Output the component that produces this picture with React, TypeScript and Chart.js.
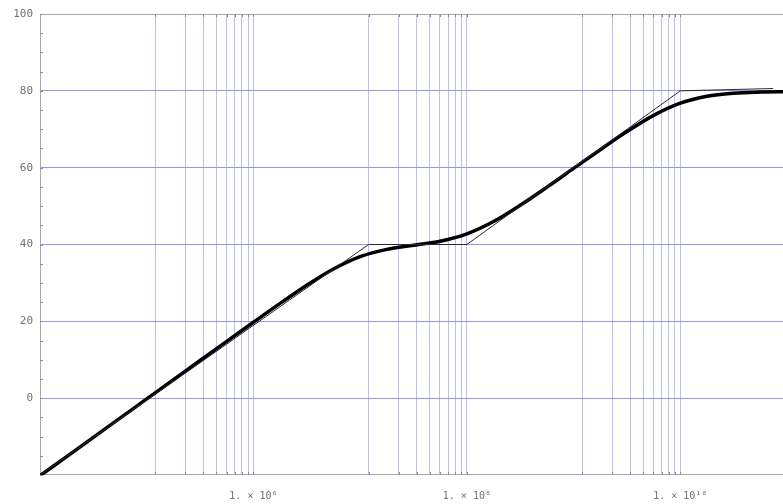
import { useEffect, useRef } from "react";
import { Chart, registerables } from "chart.js";

Chart.register(...registerables);

// Frequency samples as log10(ω), and the magnitude (dB) read at each one.
const logOmega = [
  4, 4.25, 4.5, 4.75, 5, 5.25, 5.5, 5.75, 6, 6.25, 6.5, 6.75, 7, 7.25, 7.5,
  7.75, 8, 8.25, 8.5, 8.75, 9, 9.25, 9.5, 9.75, 10, 10.25, 10.5, 10.75, 11,
];
const magnitudeDb = [
  -20.2, -15.2, -10.2, -5.2, -0.2, 4.8, 9.8, 14.79, 19.76, 24.67, 29.39, 33.62,
  36.83, 38.74, 39.8, 40.86, 42.77, 45.98, 50.21, 54.92, 59.8, 64.68, 69.39,
  73.61, 76.79, 78.61, 79.39, 79.67, 79.76,
];

// Straight-line (asymptotic) approximation: break points.
const asymptoteLogOmega = [4, 7.08, 8, 10, 10.87];
const asymptoteDb = [-20, 40, 40, 80, 80.6];

// Labelled decades on the frequency axis and their text.
const labelledDecades = [6, 8, 10];
const decadeLabels = ["1. \u00d7 10\u2076", "1. \u00d7 10\u2078", "1. \u00d7 10\u00b9\u2070"];
// Vertical grid lines: fractions of each labelled decade value.
const gridFractions = [0.12, 0.23, 0.34, 0.45, 0.56, 0.67, 0.78, 0.89, 1.0];

// Magnitude axis.
const yMin = -20;
const yMax = 100;
const yMinorStep = 5;
const yTickLabels = [0, 20, 40, 60, 80, 100];

const X_MIN = 1e4;
const X_MAX = 1e11;

const xGridValues = labelledDecades.flatMap((d) =>
  gridFractions.map((f) => f * Math.pow(10, d))
);

const labelFor = (value: number): string => {
  const idx = labelledDecades.findIndex(
    (d) => Math.abs(Math.log10(value) - d) < 1e-9
  );
  return idx >= 0 ? decadeLabels[idx] : "";
};

const V_GRID = "rgb(190,190,242)";
const H_GRID = "rgb(150,150,225)";
const FRAME = "#a8a8a8";
const TICK_MARK = "#8a8a8a";
const LABEL = "#707070";

const framePlugin = {
  id: "bodeFrame",
  beforeDatasetsDraw(chart: any) {
    const { ctx, chartArea: a, scales } = chart;
    ctx.save();
    ctx.strokeStyle = FRAME;
    ctx.lineWidth = 1;
    ctx.strokeRect(
      Math.round(a.left) + 0.5,
      Math.round(a.top) + 0.5,
      Math.round(a.right - a.left),
      Math.round(a.bottom - a.top) - 1
    );
    ctx.strokeStyle = TICK_MARK;
    ctx.beginPath();
    for (const v of xGridValues) {
      const px = Math.round(scales.x.getPixelForValue(v)) + 0.5;
      ctx.moveTo(px, a.bottom);
      ctx.lineTo(px, a.bottom - 3);
      ctx.moveTo(px, a.top);
      ctx.lineTo(px, a.top + 3);
    }
    for (const t of scales.y.ticks) {
      const py = Math.round(scales.y.getPixelForValue(t.value)) + 0.5;
      ctx.moveTo(a.left, py);
      ctx.lineTo(a.left + 3, py);
    }
    ctx.stroke();
    ctx.restore();
  },
};

export default function App() {
  const canvasRef = useRef<HTMLCanvasElement | null>(null);

  useEffect(() => {
    const canvas = canvasRef.current;
    if (!canvas) return;

    const curve = logOmega.map((l, i) => ({ x: Math.pow(10, l), y: magnitudeDb[i] }));
    const asymptote = asymptoteLogOmega.map((l, i) => ({
      x: Math.pow(10, l),
      y: asymptoteDb[i],
    }));

    const chart = new Chart(canvas, {
      type: "line",
      data: {
        datasets: [
          {
            label: "asymptote",
            data: asymptote,
            borderColor: "#2a2a2a",
            borderWidth: 1,
            pointRadius: 0,
            tension: 0,
          },
          {
            label: "magnitude",
            data: curve,
            borderColor: "#000000",
            borderWidth: 3.5,
            pointRadius: 0,
            cubicInterpolationMode: "monotone",
          },
        ],
      },
      options: {
        animation: false,
        responsive: false,
        devicePixelRatio: 1,
        layout: { padding: { top: 14, right: 13, left: 0, bottom: 0 } },
        plugins: {
          legend: { display: false },
          tooltip: { enabled: false },
        },
        scales: {
          x: {
            type: "logarithmic",
            min: X_MIN,
            max: X_MAX,
            afterBuildTicks: (scale: any) => {
              scale.ticks = xGridValues.map((v) => ({ value: v }));
            },
            afterFit: (scale: any) => {
              scale.height = 29;
            },
            border: { display: false },
            grid: {
              color: V_GRID,
              lineWidth: 1,
              drawTicks: false,
            },
            ticks: {
              autoSkip: false,
              maxRotation: 0,
              minRotation: 0,
              padding: 15,
              color: LABEL,
              font: { family: "'DejaVu Sans Mono', monospace", size: 10 },
              callback: (value: any) => labelFor(Number(value)),
            },
          },
          y: {
            type: "linear",
            min: yMin,
            max: yMax,
            afterFit: (scale: any) => {
              scale.width = 40;
            },
            border: { display: false },
            grid: {
              drawTicks: false,
              lineWidth: 1,
              color: (c: any) => {
                const v = c.tick ? c.tick.value : NaN;
                return yTickLabels.includes(v) && v > yMin && v < yMax
                  ? H_GRID
                  : "rgba(0,0,0,0)";
              },
            },
            ticks: {
              stepSize: yMinorStep,
              autoSkip: false,
              padding: 7,
              color: LABEL,
              font: { family: "'DejaVu Sans Mono', monospace", size: 11 },
              callback: (value: any) =>
                yTickLabels.includes(Number(value)) ? String(value) : "",
            },
          },
        },
      },
      plugins: [framePlugin],
    });

    return () => chart.destroy();
  }, []);

  return (
    <div
      style={{
        position: "fixed",
        left: 0,
        top: 0,
        width: 783,
        height: 504,
        overflow: "hidden",
        background: "#ffffff",
      }}
    >
      <canvas ref={canvasRef} width={800} height={504} style={{ display: "block" }} />
    </div>
  );
}
